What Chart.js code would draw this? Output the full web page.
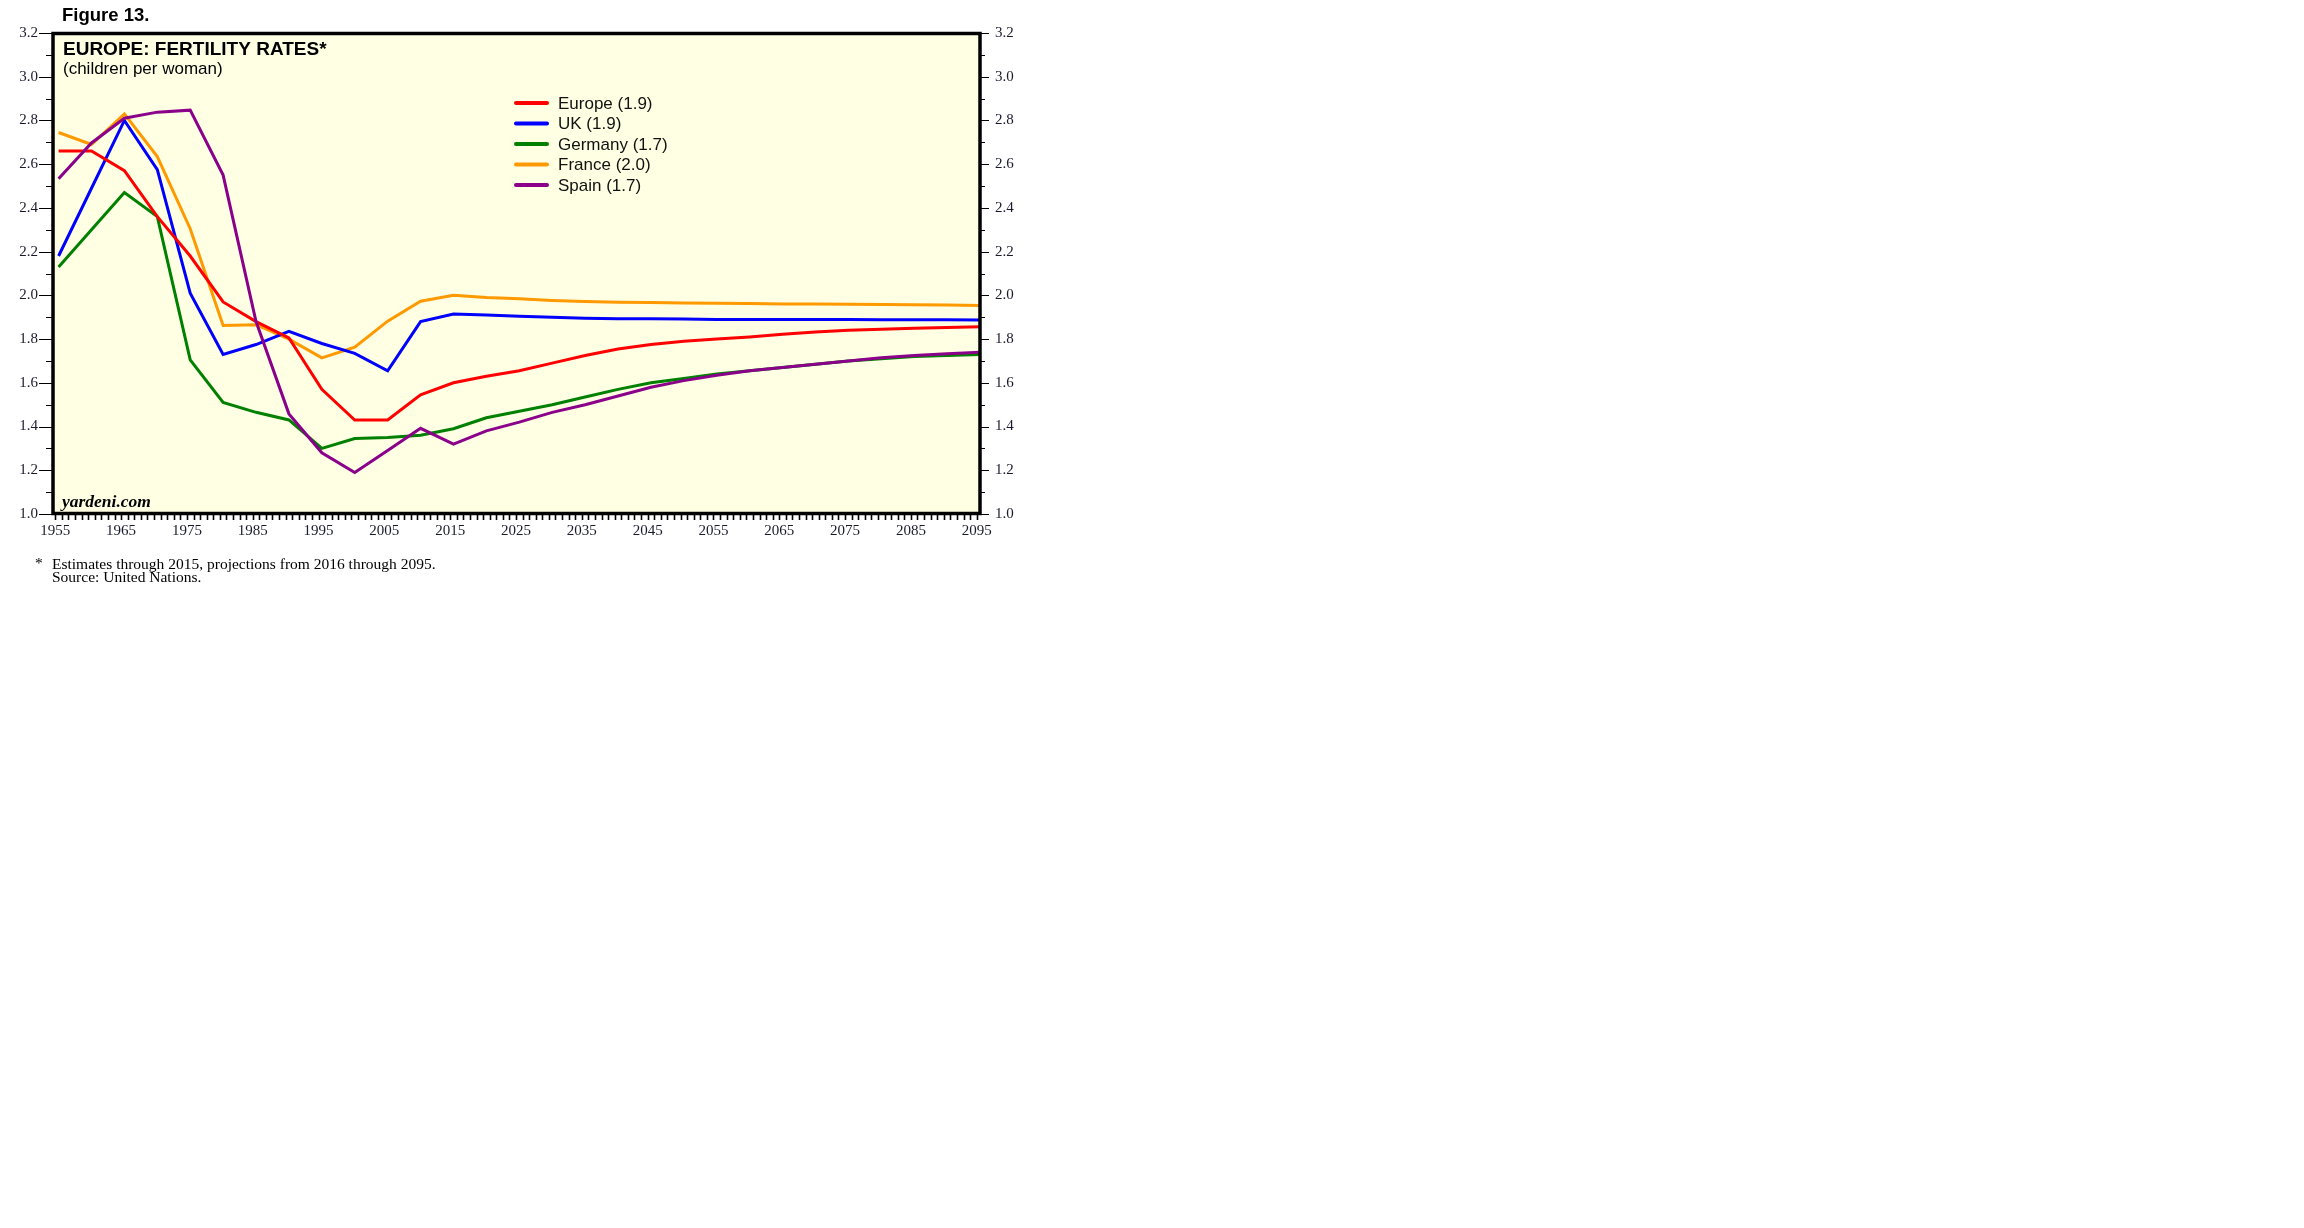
<!DOCTYPE html>
<html><head><meta charset="utf-8">
<script src="https://cdn.jsdelivr.net/npm/chart.js@4/dist/chart.umd.min.js"></script>
<style>html,body{margin:0;padding:0;background:#fff;}canvas{display:block;}</style>
</head><body>
<canvas id="c" width="2304" height="1228"></canvas>
<script>
// ---- data (5-year periods; plotted at period mid-year) ----
const years = [1955,1960,1965,1970,1975,1980,1985,1990,1995,2000,2005,2010,2015,
               2020,2025,2030,2035,2040,2045,2050,2055,2060,2065,2070,2075,2080,2085,2090,2095];
const europe  = [2.66,2.66,2.57,2.36,2.18,1.97,1.88,1.805,1.57,1.43,1.43,1.545,1.60,
                 1.63,1.655,1.69,1.725,1.755,1.775,1.79,1.80,1.81,1.822,1.832,1.84,1.845,1.85,1.853,1.856];
const uk      = [2.18,2.49,2.80,2.575,2.01,1.73,1.775,1.835,1.78,1.735,1.655,1.88,1.915,
                 1.91,1.905,1.90,1.895,1.893,1.893,1.892,1.89,1.89,1.89,1.89,1.89,1.889,1.889,1.888,1.887];
const germany = [2.13,2.30,2.47,2.36,1.705,1.51,1.465,1.43,1.30,1.345,1.35,1.36,1.39,
                 1.44,1.47,1.50,1.535,1.57,1.60,1.62,1.64,1.655,1.67,1.685,1.70,1.71,1.72,1.725,1.73];
const france  = [2.745,2.69,2.83,2.635,2.305,1.862,1.866,1.80,1.714,1.763,1.882,1.973,2.00,
                 1.99,1.985,1.977,1.972,1.969,1.967,1.965,1.964,1.963,1.961,1.96,1.959,1.958,1.957,1.956,1.954];
const spain   = [2.533,2.697,2.81,2.838,2.847,2.55,1.88,1.458,1.28,1.19,1.29,1.392,1.32,
                 1.38,1.42,1.465,1.50,1.54,1.58,1.61,1.635,1.655,1.67,1.685,1.70,1.715,1.725,1.733,1.74];

const seriesNames  = ['Europe (1.9)','UK (1.9)','Germany (1.7)','France (2.0)','Spain (1.7)'];
const seriesValues = [europe, uk, germany, france, spain];
const seriesColors = ['#FF0000','#0000FF','#008000','#FF9900','#8B008B'];
const drawOrder    = [1, 2, 3, 4, 0]; // lower = drawn on top

const yTickValues  = [1.0,1.2,1.4,1.6,1.8,2.0,2.2,2.4,2.6,2.8,3.0,3.2];
const yMinorValues = [1.1,1.3,1.5,1.7,1.9,2.1,2.3,2.5,2.7,2.9,3.1];
const xTickLabels  = [1955,1965,1975,1985,1995,2005,2015,2025,2035,2045,2055,2065,2075,2085,2095];
const xMinorFirst = 1955, xMinorLast = 2095;
const periodMid = 0.5;

const SANS  = '"Liberation Sans", Arial, sans-serif';
const SERIF = '"Liberation Serif", "Times New Roman", serif';

const datasets = seriesNames.map((name, i) => ({
  label: name,
  data: years.map((y, k) => ({x: y + periodMid, y: seriesValues[i][k]})),
  borderColor: seriesColors[i],
  backgroundColor: seriesColors[i],
  borderWidth: 3,
  pointRadius: 0,
  tension: 0,
  fill: false,
  order: drawOrder[i]
}));

const decor = {
  id: 'decor',
  beforeDraw(chart) {
    const {ctx, chartArea: a} = chart;
    ctx.save();
    ctx.fillStyle = '#FFFFE3';
    ctx.fillRect(a.left, a.top, a.right - a.left, a.bottom - a.top);
    ctx.restore();
  },
  afterDraw(chart) {
    const {ctx, chartArea: a, scales} = chart;
    const yL = scales.y, xS = scales.x;
    ctx.save();
    // frame
    ctx.strokeStyle = '#000';
    ctx.lineWidth = 3.5;
    ctx.strokeRect(a.left + 1, a.top + 0.5, a.right - a.left - 1, a.bottom - a.top - 1);
    // tick marks
    ctx.lineWidth = 1;
    ctx.beginPath();
    yTickValues.forEach(v => {
      const p = Math.round(yL.getPixelForValue(v)) + 0.5;
      ctx.moveTo(a.left - 13, p); ctx.lineTo(a.left, p);
      ctx.moveTo(a.right, p); ctx.lineTo(a.right + 9, p);
    });
    yMinorValues.forEach(v => {
      const p = Math.round(yL.getPixelForValue(v)) + 0.5;
      ctx.moveTo(a.left - 6, p); ctx.lineTo(a.left, p);
      ctx.moveTo(a.right, p); ctx.lineTo(a.right + 5, p);
    });
    ctx.stroke();
    ctx.lineWidth = 1.6;
    ctx.beginPath();
    for (let yr = xMinorFirst; yr <= xMinorLast; yr++) {
      const p = Math.round(xS.getPixelForValue(yr)) + 0.5;
      ctx.moveTo(p, a.bottom); ctx.lineTo(p, a.bottom + 6);
    }
    ctx.stroke();

    // texts
    ctx.fillStyle = '#000';
    ctx.textBaseline = 'alphabetic';
    ctx.textAlign = 'left';
    ctx.font = 'bold 18.5px ' + SANS;
    ctx.fillText('Figure 13.', 62, 21);
    ctx.font = 'bold 19px ' + SANS;
    ctx.fillText('EUROPE: FERTILITY RATES*', 63, 54.5);
    ctx.font = '17px ' + SANS;
    ctx.fillText('(children per woman)', 63, 74);

    // legend
    ctx.font = '17px ' + SANS;
    chart.data.datasets.forEach((ds, i) => {
      const cy = 103 + i * 20.5;
      ctx.strokeStyle = ds.borderColor;
      ctx.lineWidth = 4;
      ctx.lineCap = 'round';
      ctx.beginPath(); ctx.moveTo(516, cy); ctx.lineTo(547, cy); ctx.stroke();
      ctx.fillStyle = '#111';
      ctx.textBaseline = 'middle';
      ctx.fillText(ds.label, 558, cy + 1);
    });

    ctx.textBaseline = 'alphabetic';
    ctx.fillStyle = '#000';
    ctx.font = 'italic bold 17.5px ' + SERIF;
    ctx.fillText('yardeni.com', 62, 507);

    ctx.font = '15.5px ' + SERIF;
    ctx.fillText('*', 35, 568);
    ctx.fillText('Estimates through 2015, projections from 2016 through 2095.', 52, 569);
    ctx.fillText('Source: United Nations.', 52, 582);
    ctx.restore();
  }
};

const yAxisBase = (pos, pad, w) => ({
  type: 'linear', position: pos, min: 1.0, max: 3.2,
  afterBuildTicks: s => { s.ticks = yTickValues.map(v => ({value: v})); },
  afterFit: s => { s.width = w; },
  grid: {display: false, drawTicks: false},
  border: {display: false},
  ticks: {
    font: {family: SERIF, size: 15}, color: '#1a1a2e', padding: pad,
    callback: v => v.toFixed(1)
  }
});

new Chart(document.getElementById('c'), {
  type: 'line',
  data: {datasets},
  options: {
    responsive: false, animation: false, devicePixelRatio: 1,
    layout: {padding: {left: 0, top: 33, right: 2304 - 980 - 50, bottom: 1228 - 514 - 30}},
    plugins: {legend: {display: false}, tooltip: {enabled: false}, title: {display: false}},
    scales: {
      x: {
        type: 'linear', min: xMinorFirst - periodMid, max: xMinorLast + periodMid,
        afterBuildTicks: s => { s.ticks = xTickLabels.map(v => ({value: v})); },
        afterFit: s => { s.height = 30; },
        grid: {display: false, drawTicks: false},
        border: {display: false},
        ticks: {font: {family: SERIF, size: 15}, color: '#1a1a2e', padding: 8.5,
                maxRotation: 0, autoSkip: false, callback: v => String(v)}
      },
      y: yAxisBase('left', 14, 52),
      y2: yAxisBase('right', 15, 50)
    }
  },
  plugins: [decor]
});
</script>
</body></html>
